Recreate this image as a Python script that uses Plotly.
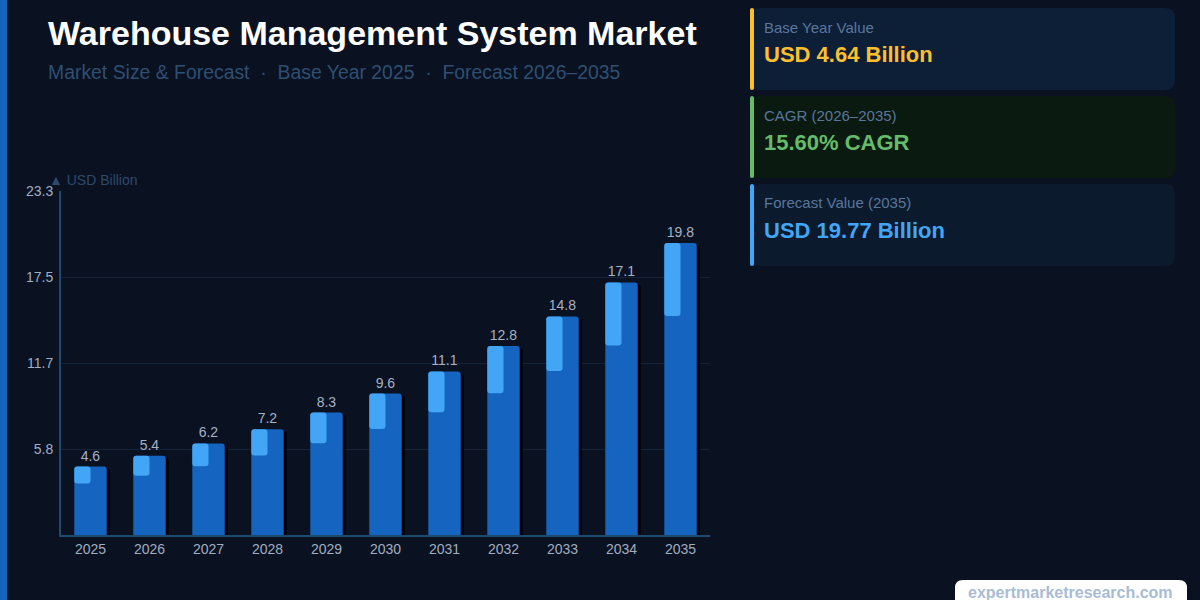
import plotly.graph_objects as go

years = ["2025", "2026", "2027", "2028", "2029", "2030", "2031", "2032", "2033", "2034", "2035"]
values = [4.64, 5.36, 6.20, 7.17, 8.29, 9.58, 11.08, 12.80, 14.80, 17.11, 19.77]
y_tickvals = [5.825, 11.65, 17.475, 23.3]
y_ticktext = ["5.8", "11.7", "17.5", "23.3"]
y_max = 23.3

title = "Warehouse Management System Market"
subtitle = "Market Size & Forecast  ·  Base Year 2025  ·  Forecast 2026–2035"
card_labels = ["Base Year Value", "CAGR (2026–2035)", "Forecast Value (2035)"]
card_values = ["USD 4.64 Billion", "15.60% CAGR", "USD 19.77 Billion"]
card_accents = ["#FBC02D", "#66BB6A", "#42A5F5"]
card_bgs = ["#0d1e37", "#0a1a10", "#0b1a2d"]

BG = "#0a1120"
FONT = "Liberation Sans, Arial, sans-serif"
W, H = 1200, 600
L, R, T, B = 61, 490, 191, 65
PW, PH = W - L - R, H - T - B


def px(x):
    return (x - L) / PW


def py(y):
    return (H - B - y) / PH


def rrect(x0, y0, x1, y1, r):
    p = lambda x, y: f"{px(x):.5f},{py(y):.5f}"
    return (
        f"M {p(x0 + r, y0)} L {p(x1 - r, y0)} Q {p(x1, y0)} {p(x1, y0 + r)} "
        f"L {p(x1, y1 - r)} Q {p(x1, y1)} {p(x1 - r, y1)} "
        f"L {p(x0 + r, y1)} Q {p(x0, y1)} {p(x0, y1 - r)} "
        f"L {p(x0, y0 + r)} Q {p(x0, y0)} {p(x0 + r, y0)} Z"
    )


fig = go.Figure()

bw = 0.55
# shadow
fig.add_trace(go.Bar(
    x=years, y=[v - 0.12 for v in values], width=bw, offset=-bw / 2 + 0.05,
    marker=dict(color="rgba(0,0,0,0.9)", line=dict(width=0)), hoverinfo="skip", showlegend=False,
))
# main bar
fig.add_trace(go.Bar(
    x=years, y=values, width=bw, offset=-bw / 2,
    marker=dict(color="#1565C0", line=dict(width=0)),
    texttemplate="%{y:.1f}", textposition="outside",
    textfont=dict(color="#a6b2c6", size=14, family=FONT), cliponaxis=False, showlegend=False,
))
# highlight inset (top quarter, left half)
fig.add_trace(go.Bar(
    x=years, y=[v * 0.25 for v in values], base=[v * 0.75 for v in values],
    width=bw / 2, offset=-bw / 2,
    marker=dict(color="#42A5F5", line=dict(width=0)), hoverinfo="skip", showlegend=False,
))

shapes = []
annotations = []

# left stripe
shapes.append(dict(type="rect", xref="paper", yref="paper", x0=px(0), x1=px(7), y0=py(0), y1=py(600),
                   fillcolor="#1565C0", line=dict(width=0), layer="below"))

# cards
card_tops = [8, 96, 184]
for i, top in enumerate(card_tops):
    bot = top + 82
    shapes.append(dict(type="path", xref="paper", yref="paper", path=rrect(750, top, 1175, bot, 10),
                       fillcolor=card_bgs[i], line=dict(width=0), layer="below"))
    shapes.append(dict(type="path", xref="paper", yref="paper", path=rrect(750, top, 754, bot, 2),
                       fillcolor=card_accents[i], line=dict(width=0), layer="below"))
    annotations.append(dict(xref="paper", yref="paper", x=px(762), y=py(top + 19), xanchor="left", yanchor="middle",
                            text=card_labels[i], showarrow=False, font=dict(color="#5a769c", size=15, family=FONT)))
    annotations.append(dict(xref="paper", yref="paper", x=px(762), y=py(top + 46), xanchor="left", yanchor="middle",
                            text=f"<b>{card_values[i]}</b>", showarrow=False,
                            font=dict(color=card_accents[i], size=22, family=FONT)))

# footer
shapes.append(dict(type="path", xref="paper", yref="paper", path=rrect(955, 580, 1187, 612, 8),
                   fillcolor="#ffffff", line=dict(width=0), layer="above"))
annotations.append(dict(xref="paper", yref="paper", x=px(1070), y=py(592), xanchor="center", yanchor="middle",
                        text="<b>expertmarketresearch.com</b>", showarrow=False,
                        font=dict(color="#a9bcd4", size=16, family=FONT)))

# title / subtitle
annotations.append(dict(xref="paper", yref="paper", x=px(46), y=py(33), xanchor="left", yanchor="middle",
                        text=f"<b>{title}</b>", showarrow=False, font=dict(color="#ffffff", size=34, family=FONT)))
annotations.append(dict(xref="paper", yref="paper", x=px(46), y=py(72), xanchor="left", yanchor="middle",
                        text=subtitle, showarrow=False, font=dict(color="#2e4f72", size=19.4, family=FONT)))

# axis unit label
annotations.append(dict(xref="paper", yref="paper", x=px(47), y=py(180), xanchor="left", yanchor="middle",
                        text="▲ USD Billion", showarrow=False, font=dict(color="#2c4a6b", size=14, family=FONT)))

fig.update_layout(
    width=W, height=H, autosize=False,
    margin=dict(l=L, r=R, t=T, b=B, pad=0),
    paper_bgcolor=BG, plot_bgcolor=BG,
    barmode="overlay", barcornerradius=3,
    shapes=shapes, annotations=annotations,
    font=dict(family=FONT),
    xaxis=dict(range=[-0.5, 10.5], showgrid=False, showline=True, linecolor="#1e4a6e", linewidth=2,
               ticks="", tickfont=dict(color="#a0aec0", size=14, family=FONT), fixedrange=True),
    yaxis=dict(range=[0, y_max], tickvals=y_tickvals, ticktext=y_ticktext, showgrid=True,
               gridcolor="#14233a", gridwidth=1, showline=True, linecolor="#1e4a6e", linewidth=2,
               ticks="", ticklabelstandoff=3,
               tickfont=dict(color="#a0aec0", size=14, family=FONT), zeroline=False, fixedrange=True),
)

fig.write_html("out.html", config={"displayModeBar": False})
